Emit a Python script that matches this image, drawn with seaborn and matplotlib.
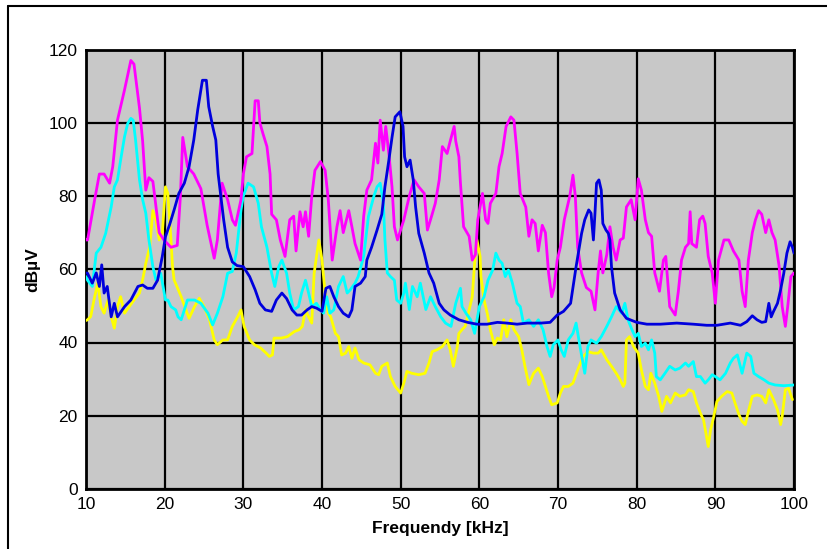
import matplotlib
matplotlib.use("Agg")
import matplotlib.pyplot as plt
from matplotlib.lines import Line2D
import seaborn as sns
import pandas as pd

# ---------------- data (kHz, dBuV) ----------------
magenta_x = [10.0, 10.2, 11.1, 11.7, 12.3, 13.0, 13.4, 14.0, 14.9, 15.7, 16.1, 16.8, 17.2, 17.6, 18.0, 18.5, 18.9, 19.3, 19.9,
             20.8, 21.6, 22.0, 22.3, 22.9, 23.7, 24.6, 25.4, 26.3, 26.7, 27.3, 28.0, 28.6, 29.0, 29.7,
             30.0, 30.4, 31.1, 31.5, 31.9, 32.1, 32.5, 33.0, 33.4, 33.6, 34.2, 34.7, 35.3, 35.9, 36.4, 36.7, 37.2, 37.6, 37.9, 38.3, 38.7, 39.1, 39.8,
             40.4, 40.8, 41.3, 41.9, 42.3, 42.7, 43.4, 43.8, 44.2, 44.9, 45.3, 45.7, 46.3, 46.8, 47.1, 47.4, 47.8, 48.1, 48.5, 48.9, 49.2, 49.6,
             50.0, 50.4, 51.1, 51.7, 52.3, 53.0, 53.4, 54.0, 54.4, 54.9, 55.3, 55.9, 56.3, 56.8, 57.0, 57.4, 57.6, 58.0, 58.7, 59.1, 59.5, 59.8,
             60.4, 60.8, 61.1, 61.4, 62.1, 62.5, 62.9, 63.4, 64.0, 64.4, 64.8, 65.2, 65.9, 66.3, 66.7, 67.1, 67.5, 68.0, 68.4, 68.8, 69.2, 69.5, 69.9,
             70.3, 70.8, 71.5, 71.9, 72.2, 72.5, 73.0, 73.6, 74.2, 74.7, 75.1, 75.4, 75.7, 76.2, 76.6, 77.0, 77.4, 77.9, 78.3, 78.7, 79.3, 79.8,
             80.2, 80.6, 81.1, 81.5, 81.9, 82.3, 82.9, 83.4, 83.7, 84.2, 84.9, 85.3, 85.7, 86.2, 86.6, 86.8, 87.0, 87.6, 88.0, 88.4, 88.7, 89.1, 89.6,
             90.0, 90.4, 91.1, 91.7, 92.3, 93.0, 93.4, 93.8, 94.2, 94.7, 95.1, 95.5, 95.9, 96.4, 96.8, 97.2, 97.6, 98.1, 98.5, 98.9, 99.2, 99.6, 100.0]
magenta_y = [68, 68, 79, 86, 86, 83.5, 88, 100.7, 109, 117, 116, 104, 95, 81.6, 85, 84, 77, 70, 68,
             66, 66.5, 80, 96, 88, 86, 82, 72, 63, 68, 83.5, 79, 73.5, 72, 79,
             86, 90.7, 91.6, 106, 106, 100, 97, 93.5, 86, 75, 73.5, 68, 63.5, 73.5, 74.5, 65, 75.7, 71.6, 75.7, 69, 80, 87, 89.4,
             87, 79, 62.5, 71.6, 76, 70, 76, 71.6, 67, 62.5, 74.5, 81.6, 84.4, 94.4, 89, 100.7, 92.5, 99, 91.6, 82.5, 71.6, 68,
             70.7, 73.5, 80, 84.4, 82.5, 80.7, 70.7, 75, 78, 84.4, 93.5, 91.6, 95, 99, 95, 90.7, 83.5, 71.6, 69, 62.5, 64, 73.5,
             80.7, 73.5, 72.5, 78, 80.7, 88, 91.6, 99, 101.6, 100.7, 91.6, 80.7, 77, 69, 73.5, 72.5, 65, 72, 70, 59, 52.5, 55, 62.5,
             66, 73.5, 80, 85.7, 80, 66, 59, 55, 54, 48.9, 59, 65, 59, 64, 71.6, 66, 62.5, 68, 68.5, 77, 79, 73.5,
             84.7, 81.6, 73.5, 70, 69, 59, 54, 62.5, 63.5, 49.8, 47.5, 54, 62.5, 66, 67, 75.7, 67, 66, 73.5, 74.5, 72.5, 63.5, 59,
             50.7, 62.5, 68, 68, 65, 62.5, 54, 49.8, 62.5, 70, 73.5, 76, 75, 70, 73.5, 70, 68, 61, 49.8, 44.4, 49.8, 58, 59]

blue_x = [10.0, 10.2, 10.8, 11.3, 11.7, 12.0, 12.3, 12.7, 13.2, 13.6, 14.0, 14.9, 15.7, 16.6, 17.2, 17.8, 18.5, 19.1, 19.7,
          20.1, 20.6, 21.2, 21.8, 22.5, 23.1, 23.7, 24.2, 24.8, 25.3, 25.6, 26.1, 26.5, 26.8, 27.1, 27.5, 28.0, 28.6, 29.2,
          30.0, 30.8, 31.5, 32.1, 32.8, 33.6, 34.2, 34.9, 35.5, 36.2, 36.8, 37.4, 38.1, 38.7, 39.3,
          40.0, 40.5, 41.0, 41.5, 42.1, 42.7, 43.4, 43.8, 44.2, 44.9, 45.5, 45.7, 46.3, 47.0, 47.6, 48.0, 48.5, 48.9, 49.3, 49.9,
          50.3, 50.5, 50.8, 51.2, 51.6, 51.9, 52.3, 53.0, 53.6, 54.2, 54.9, 55.5, 56.3, 57.4, 58.5, 59.7,
          61.0, 62.3, 63.5, 64.8, 66.1, 67.8, 69.0, 69.9,
          70.7, 71.6, 72.3, 73.0, 73.4, 73.9, 74.2, 74.5, 74.7, 74.9, 75.2, 75.5, 75.7, 76.1, 76.4, 76.6, 76.8, 77.2, 77.9, 78.7,
          80.0, 81.3, 83.0, 85.1, 87.2, 88.9, 90.2, 91.9, 93.2, 94.0, 94.7, 95.3, 95.9, 96.4, 96.8, 97.1, 97.4, 97.9, 98.3, 98.7,
          99.1, 99.5, 99.8, 100.0]
blue_y = [59, 58.9, 56.2, 59, 55.3, 61.2, 53.5, 55.3, 47, 50.7, 47, 49.8, 51.6, 55.3, 55.7, 54.8, 54.8, 57, 63.5,
          68.9, 72, 76.2, 80.7, 83.5, 88, 95.3, 103.5, 111.6, 111.6, 104.4, 99, 95.3, 86, 80.7, 73.5, 66, 62, 61,
          60.7, 58, 54.4, 50.7, 48.9, 48.5, 51.6, 53.5, 52, 48.9, 47.5, 47.5, 48.9, 49.8, 49.4,
          48.5, 54.8, 55.3, 52.5, 49.8, 48, 47, 48.9, 55.3, 56.2, 58, 62.5, 66, 70.7, 75, 82.5, 89.8, 96, 101.6, 103,
          99, 90.7, 88, 89.8, 84.4, 77, 69.8, 64.4, 59, 56.2, 50.7, 48.9, 47.5, 46.2, 45.5, 45,
          45, 45.5, 45.3, 45, 45.3, 45.3, 45.5, 47.5,
          48.5, 50.7, 60.7, 69.8, 73.5, 76.2, 75.3, 68, 75.3, 83.5, 84.4, 81.6, 72.5, 70.7, 69.8, 68, 60.7, 53.5, 48.9, 46.6,
          45.5, 45, 45, 45.3, 45, 44.7, 44.7, 45.3, 44.7, 45.7, 47.3, 46.2, 45.5, 45.7, 50.7, 47, 48.5, 50.7, 54.4, 58.9,
          64.4, 67.5, 66, 64.4]

cyan_x = [10.0, 10.2, 10.8, 11.3, 11.9, 12.5, 13.2, 13.6, 14.0, 14.4, 14.9, 15.3, 15.7, 16.0, 16.3, 16.8, 17.2, 17.6, 18.0, 18.5, 18.9, 19.5,
          20.1, 20.4, 20.8, 21.4, 21.7, 22.1, 22.9, 23.8, 24.6, 25.5, 26.1, 26.7, 27.4, 28.0, 28.6, 29.1, 29.7,
          30.0, 30.6, 31.3, 31.9, 32.3, 33.0, 33.6, 34.0, 34.5, 34.9, 35.5, 35.9, 36.4, 37.0, 37.4, 37.9, 38.3, 38.7, 39.3, 39.8,
          40.2, 40.6, 41.0, 41.5, 42.1, 42.7, 43.2, 43.6, 44.2, 44.6, 45.3, 45.9, 46.6, 47.0, 47.4, 47.8, 48.0, 48.3, 48.7, 49.2, 49.5,
          50.0, 50.4, 50.6, 51.1, 51.5, 52.1, 52.5, 53.2, 53.8, 54.4, 55.1, 55.7, 56.4, 57.0, 57.6, 57.8, 58.3, 58.9, 59.4,
          60.0, 60.6, 61.1, 61.7, 62.1, 62.5, 62.9, 63.3, 63.7, 64.2, 64.8, 65.2, 65.6, 66.3, 66.9, 67.5, 68.1, 68.6, 69.0, 69.4,
          70.0, 70.4, 70.8, 71.3, 71.9, 72.3, 72.8, 73.4, 73.8, 74.2, 74.9, 75.5, 76.2, 76.8, 77.4, 78.1, 78.5, 78.9, 79.4, 79.8,
          80.2, 80.6, 81.1, 81.5, 81.9, 82.3, 82.5, 83.0, 83.6, 84.2, 84.9, 85.5, 86.2, 86.6, 87.2, 87.6, 88.1, 88.7, 89.1, 89.6,
          90.0, 90.6, 91.3, 91.9, 92.3, 92.8, 93.4, 94.0, 94.5, 94.9, 95.5, 96.2, 96.8, 97.6, 98.7, 100.0]
cyan_y = [58, 57, 55.3, 64.4, 66, 69.8, 77, 82.5, 84.4, 89.8, 96.2, 99.8, 101.2, 100.7, 95.3, 84.4, 79, 75.3, 68, 60.7, 57, 58.9,
          51.6, 51.6, 49.8, 48.9, 47, 46.2, 51.6, 51.6, 50.7, 48, 44.8, 48, 52.5, 58.9, 59.4, 64.4, 76.2,
          80, 83.5, 82.5, 78, 71.6, 66, 58.9, 55.3, 60.7, 62.5, 58.9, 53.5, 48.9, 49.8, 53.5, 57, 53.5, 49.8, 50.7, 48.9,
          48, 52.5, 48, 48.9, 55.3, 58, 53.5, 54.4, 56.2, 58, 63.5, 74.4, 80, 82.5, 83.5, 78, 68, 59, 58, 57, 51.6,
          50.7, 53.5, 56.2, 49, 55.3, 52.5, 56.2, 49, 52.5, 49.8, 47, 45.3, 44.4, 50.7, 54.8, 49.8, 48, 46.2, 42.5,
          49.8, 52.5, 57, 59.8, 64.4, 62.5, 61.6, 58, 59.8, 56.2, 50.7, 49.8, 45.3, 46.2, 44.4, 46.2, 43.5, 38.9, 36.2, 39.4,
          40.7, 38, 36.2, 40.7, 42.5, 45.3, 38.9, 31.6, 38.9, 40.7, 39.8, 41.6, 44.4, 47, 49.8, 48, 50.7, 46.2, 43.5, 41.6,
          42.5, 38.9, 39.8, 38, 40.7, 37.1, 30.7, 29.8, 31.6, 33.5, 32.5, 33, 34.4, 33.5, 34.8, 30.7, 30.7, 28.9, 29.8, 31.2,
          30.7, 29.8, 31.6, 34.4, 35.7, 36.6, 31.6, 37.1, 36.2, 31.6, 30.7, 29.8, 28.9, 28.4, 28.2, 28.4]

yellow_x = [10.0, 10.2, 10.6, 11.1, 11.5, 11.9, 12.3, 12.8, 13.2, 13.6, 14.0, 14.4, 14.9, 15.5, 16.1, 16.8, 17.2, 17.6, 18.1, 18.5, 18.9, 19.3, 19.7,
            20.1, 20.4, 20.8, 21.0, 21.2, 22.1, 22.7, 23.1, 23.8, 24.4, 25.0, 25.7, 26.3, 26.7, 27.4, 28.0, 28.6, 29.3, 29.7,
            30.1, 30.8, 31.4, 32.2, 32.9, 33.3, 33.7, 33.9, 34.8, 35.6, 36.5, 37.1, 37.5, 37.9, 38.3, 38.7, 39.0, 39.6,
            40.0, 40.4, 40.8, 41.1, 41.7, 42.1, 42.5, 43.0, 43.4, 43.8, 44.2, 44.7, 45.3, 46.1, 46.8, 47.2, 47.6, 48.3, 48.7, 49.3,
            50.0, 50.4, 50.8, 51.4, 52.3, 53.1, 53.6, 54.0, 54.6, 55.3, 55.9, 56.3, 56.7, 57.2, 57.4, 57.8, 58.2, 58.6, 59.1, 59.4, 59.7,
            60.1, 60.2, 60.6, 61.0, 61.4, 61.9, 62.3, 62.7, 63.1, 63.5, 64.0, 64.4, 65.0, 65.4, 65.8, 66.3, 66.9, 67.5, 68.0, 68.4, 68.8, 69.2, 69.9,
            70.3, 70.7, 71.3, 71.9, 72.5, 73.2, 73.8, 74.5, 75.1, 75.5, 76.2, 76.8, 77.4, 77.9, 78.3, 78.5, 78.7, 79.1, 79.6,
            80.2, 80.6, 81.1, 81.5, 81.8, 82.3, 82.8, 83.2, 83.8, 84.3, 84.9, 85.5, 86.2, 86.6, 87.2, 87.6, 88.1, 88.5, 88.8, 89.1, 89.4, 89.8,
            90.2, 90.8, 91.5, 92.1, 92.5, 93.0, 93.4, 93.8, 94.2, 94.7, 95.3, 95.9, 96.4, 96.8, 97.4, 97.9, 98.3, 98.5, 98.9, 99.3, 99.8]
yellow_y = [46, 46.2, 47.1, 52.5, 56.2, 49.8, 48, 51.6, 47.1, 43.9, 49.8, 52.5, 48, 49.8, 51.6, 53.5, 57.1, 61.6, 66.2, 76, 73.5, 68, 69.8,
            82.5, 80.7, 68, 60.7, 57.1, 52.5, 48.9, 46.6, 49.8, 52.1, 49.8, 46.2, 40.7, 39.4, 40.7, 40.7, 44.4, 47.1, 48.9,
            44.4, 40.7, 39.4, 38.5, 37.1, 36.2, 36.6, 41.2, 41.2, 41.6, 43, 43.5, 44.4, 48.9, 47, 45.3, 58.9, 68,
            62.5, 53.5, 48, 47.1, 42.5, 41.6, 36.6, 37.1, 38.9, 35.7, 38.5, 35.3, 34.4, 33.9, 31.6, 31.2, 33.5, 34.4, 30.7, 28,
            26.2, 28.9, 32.1, 31.6, 31.2, 31.6, 34.4, 37.5, 38, 38.9, 40.7, 38, 33.5, 38.9, 42.5, 43.5, 44.4, 48, 52.5, 61.6, 68,
            63.5, 58, 51.6, 48, 43.5, 39.4, 41.2, 40.7, 46.2, 41.6, 46.2, 43.5, 41.6, 38, 33.5, 28.5, 31.6, 33, 30.7, 28, 25.3, 23, 23.5,
            26.2, 28, 28, 28.9, 32.5, 36.2, 37.5, 37.1, 37.1, 38, 35.3, 33.5, 31.6, 29.8, 28, 28.9, 40.7, 41.6, 38.9,
            37.1, 32.5, 28, 27.1, 31.6, 28.9, 25.3, 21.2, 25.3, 23.5, 26.2, 25.3, 25.7, 27.1, 26.6, 23.5, 20.7, 18.9, 15.3, 11.6, 16.2, 19.8,
            23.9, 25.3, 26.6, 26.2, 23.5, 20.3, 18.5, 17.6, 21.2, 25.3, 25.7, 25.3, 23.5, 27.1, 24.4, 21.6, 17.6, 19.8, 27.1, 27.5, 24.4]

x_ticks = [10, 20, 30, 40, 50, 60, 70, 80, 90, 100]
y_ticks = [0, 20, 40, 60, 80, 100, 120]
x_label = "Frequendy [kHz]"
y_label = "dBµV"

series = [
    ("yellow", yellow_x, yellow_y, "#ffff00"),
    ("cyan", cyan_x, cyan_y, "#00ffff"),
    ("magenta", magenta_x, magenta_y, "#ff00ff"),
    ("blue", blue_x, blue_y, "#0000dd"),
]

# ---------------- plot ----------------
sns.set_theme(style="white")
plt.rcParams["font.family"] = ["Liberation Sans", "DejaVu Sans"]
plt.rcParams["text.color"] = "black"
plt.rcParams["axes.labelcolor"] = "black"
plt.rcParams["xtick.color"] = "black"
plt.rcParams["ytick.color"] = "black"

fig = plt.figure(figsize=(8.28, 5.49), dpi=100)
ax = fig.add_axes([86 / 828, 1 - 489 / 549, (794 - 86) / 828, (489 - 49.5) / 549])
ax.set_facecolor("#c8c8c8")

for name, xs, ys, col in series:
    df = pd.DataFrame({"f": xs, "v": ys})
    sns.lineplot(data=df, x="f", y="v", ax=ax, color=col, linewidth=2.0,
                 estimator=None, sort=False, zorder=3)

ax.set_xlim(10, 100)
ax.set_ylim(0, 120)
ax.set_xticks(x_ticks)
ax.set_yticks(y_ticks)
ax.set_xticklabels([str(t) for t in x_ticks], fontsize=12.5, color="black")
ax.set_yticklabels([str(t) for t in y_ticks], fontsize=12.5, color="black")
ax.tick_params(axis="both", length=0, pad=6, colors="black")
ax.grid(True, color="black", linewidth=1.6, zorder=1)
ax.set_axisbelow(True)
for s in ax.spines.values():
    s.set_visible(True)
    s.set_color("black")
    s.set_linewidth(2.0)

ax.set_xlabel(x_label, fontsize=12.5, fontweight="bold", labelpad=6, color="black")
ax.set_ylabel(y_label, fontsize=12.5, fontweight="bold", labelpad=6, color="black")

# outer frame (top and left edges visible)
fig.add_artist(Line2D([8 / 828, 8 / 828], [0, 1 - 6 / 549], transform=fig.transFigure, color="black", lw=1.5))
fig.add_artist(Line2D([8 / 828, 1], [1 - 6 / 549, 1 - 6 / 549], transform=fig.transFigure, color="black", lw=1.5))

fig.savefig("out.png", dpi=100)
